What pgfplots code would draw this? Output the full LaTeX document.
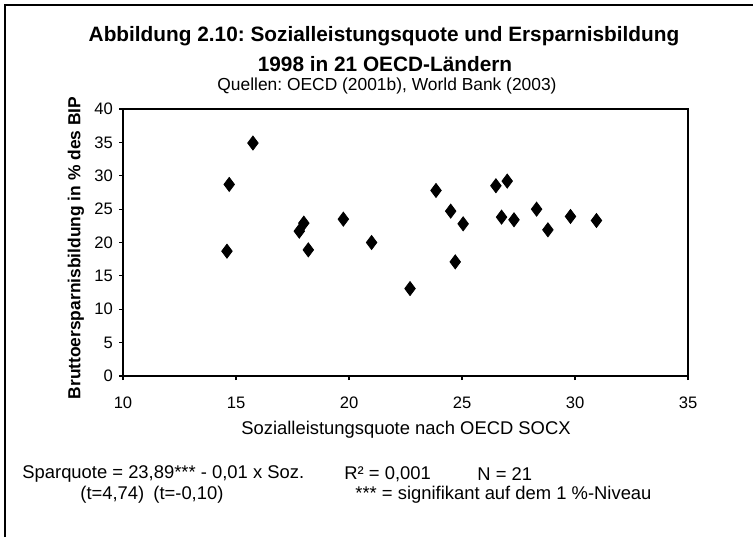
\documentclass[border=0pt]{standalone}
\usepackage{fontspec}
\setmainfont{Liberation Sans}
\usepackage{pgfplots}
\pgfplotsset{compat=1.18}

% Sozialleistungsquote (x) vs. Bruttoersparnisbildung (y), 21 OECD-Laender
\pgfplotstableread{
x     y
14.7  28.7
14.6  18.7
15.75 34.9
17.8  21.7
18.0  22.9
18.2  18.9
19.75 23.5
21.0  20.0
22.7  13.1
23.85 27.8
24.5  24.7
25.05 22.8
24.7  17.1
26.5  28.5
27.0  29.2
26.75 23.8
27.3  23.4
28.3  25.0
28.8  21.9
29.8  23.9
30.95 23.3
}\soctab

\begin{document}
\frenchspacing
\begin{tikzpicture}[x=0.5pt,y=0.5pt]
% picture size in reference pixels
\path[use as bounding box] (0,0) rectangle (753,537);
% frame (top and left edge only)
\draw[line width=0.8pt] (5,0) -- (5,532) -- (753,532);

\node[font=\bfseries\fontsize{10.4}{12}\selectfont] at (384,501)
  {Abbildung 2.10: Sozialleistungsquote und Ersparnisbildung};
\node[font=\bfseries\fontsize{10.4}{12}\selectfont] at (385,473)
  {1998 in 21 OECD-Ländern};
\node[font=\fontsize{8.7}{10}\selectfont] at (387,451)
  {Quellen: OECD (2001b), World Bank (2003)};

\begin{axis}[
  at={(61.5pt,80.5pt)}, anchor=south west,
  scale only axis,
  width=282.5pt, height=133.5pt,
  xmin=10, xmax=35, ymin=0, ymax=40,
  xtick={10,15,...,35}, ytick={0,5,...,40},
  tick align=outside, xtick pos=bottom, ytick pos=left,
  major tick length=2pt,
  axis line style={line width=0.8pt},
  tick style={line width=0.6pt, black},
  tick label style={font=\fontsize{8.3}{10}\selectfont},
  /pgf/number format/assume math mode=true,
  xticklabel style={yshift=-5pt},
  yticklabel style={xshift=0.5pt},
  clip=false,
]
\addplot[only marks, mark=diamond*, mark size=3.5pt, black]
  table[x=x, y=y] {\soctab};
\end{axis}

\node[font=\bfseries\fontsize{8.7}{10}\selectfont, rotate=90] at (76,289)
  {Bruttoersparnisbildung in \% des BIP};
\node[font=\fontsize{9.2}{10}\selectfont] at (406,107)
  {Sozialleistungsquote nach OECD SOCX};

\begin{scope}[every node/.style={font=\fontsize{9.2}{10}\selectfont, anchor=west, inner sep=0pt}]
\node at (22,63) {Sparquote = 23,89*** - 0,01 x Soz.};
\node at (344,63) {R² = 0,001};
\node at (477,63) {N = 21};
\node at (80,42) {(t=4,74)};
\node at (153,42) {(t=-0,10)};
\node at (355,42) {*** = signifikant auf dem 1 \%-Niveau};
\end{scope}
\end{tikzpicture}
\end{document}
